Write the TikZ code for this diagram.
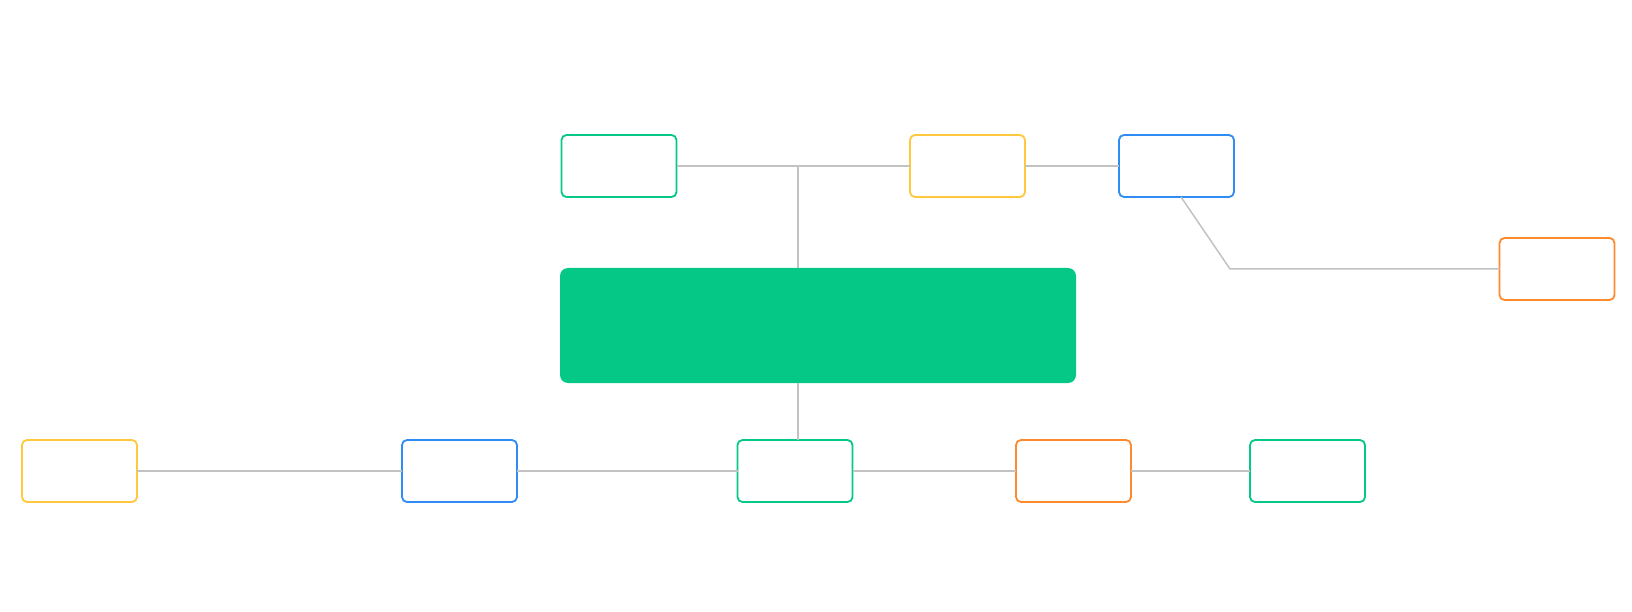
\documentclass[tikz,border=0pt]{standalone}
\usetikzlibrary{calc}
\definecolor{cgreen}{HTML}{05C886}
\definecolor{cyellow}{HTML}{FFC83D}
\definecolor{cblue}{HTML}{2F8CF5}
\definecolor{corange}{HTML}{FF8A2E}
\definecolor{cline}{HTML}{C2C2C2}
\begin{document}
\begin{tikzpicture}[x=1pt,y=-1pt,
  box/.style={draw, line width=1.8pt, fill=white, rounded corners=5pt, minimum width=115pt, minimum height=62pt, inner sep=0pt, outer sep=0pt},
  gbox/.style={box, draw=cgreen},
  ybox/.style={box, draw=cyellow},
  bbox/.style={box, draw=cblue},
  obox/.style={box, draw=corange},
  link/.style={draw=cline, line width=1.5pt}]
\useasboundingbox (0,0) rectangle (1632,612);
% connectors first (behind boxes)
\coordinate (j1) at (798,166);
\coordinate (bend) at (1230,269);
% main box
\node[fill=cgreen, rounded corners=8pt, minimum width=516pt, minimum height=115pt, inner sep=0pt, outer sep=0pt] (main) at (818,325.5) {};
% top row
\node[gbox] (tg) at (619,166) {};
\node[ybox] (ty) at (967.5,166) {};
\node[bbox] (tb) at (1176.5,166) {};
\node[obox] (ro) at (1557,269) {};
% bottom row
\node[ybox] (by) at (79.5,471) {};
\node[bbox] (bb) at (459.5,471) {};
\node[gbox] (bg) at (795,471) {};
\node[obox] (bo) at (1073.5,471) {};
\node[gbox] (bg2) at (1307.5,471) {};
% links
\draw[link] (tg.east) -- (ty.west);
\draw[link] (ty.east) -- (tb.west);
\draw[link] (j1) -- (j1 |- main.north);
\draw[link] ([xshift=4.5pt]tb.south) -- (bend) -- (ro.west);
\draw[link] (j1 |- main.south) -- (j1 |- bg.north);
\draw[link] (by.east) -- (bb.west);
\draw[link] (bb.east) -- (bg.west);
\draw[link] (bg.east) -- (bo.west);
\draw[link] (bo.east) -- (bg2.west);
\end{tikzpicture}
\end{document}
